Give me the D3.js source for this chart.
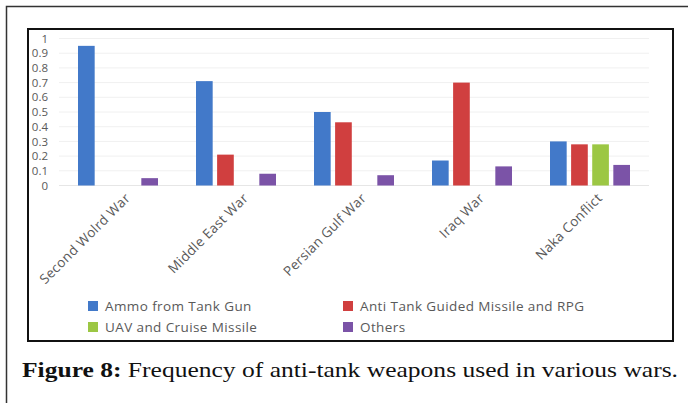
<!DOCTYPE html>
<html>
<head>
<meta charset="utf-8">
<script src="https://cdn.jsdelivr.net/npm/d3@7"></script>
<style>
  body { margin: 0; background: #fff; }
  svg { display: block; }
</style>
</head>
<body>
<svg id="chart"></svg>
<script>
// data
const categories = ["Second Wolrd War", "Middle East War", "Persian Gulf War", "Iraq War", "Naka Conflict"];
const seriesNames = ["Ammo from Tank Gun", "Anti Tank Guided Missile and RPG", "UAV and Cruise Missile", "Others"];
const ammo = [0.95, 0.71, 0.50, 0.17, 0.30];
const atgm = [0, 0.21, 0.43, 0.70, 0.28];
const uav = [0, 0, 0, 0, 0.28];
const others = [0.05, 0.08, 0.07, 0.13, 0.14];
const yTicks = [0, 0.1, 0.2, 0.3, 0.4, 0.5, 0.6, 0.7, 0.8, 0.9, 1];
const colors = ["#4279c9", "#d03f3f", "#9cc744", "#7b53a7"];

const allSeries = [ammo, atgm, uav, others];

const width = 688, height = 403;
const svg = d3.select("#chart").attr("width", width).attr("height", height);

// outer frame of the figure
svg.append("rect")
  .attr("x", 6.5).attr("y", 6.5)
  .attr("width", 700).attr("height", 420)
  .attr("fill", "none").attr("stroke", "#333").attr("stroke-width", 1.5);

// inner chart box
svg.append("rect")
  .attr("x", 28).attr("y", 29)
  .attr("width", 645).attr("height", 312)
  .attr("fill", "#fff").attr("stroke", "#111").attr("stroke-width", 2);

const x0 = d3.scaleBand().domain(categories).range([59, 649]);
const x1 = d3.scaleBand().domain(seriesNames).range([0, 80]).paddingInner(0.21);
const y = d3.scaleLinear().domain([0, 1]).range([185.5, 38.5]);

// gridlines
svg.append("g")
  .selectAll("line")
  .data(yTicks.slice(1))
  .enter()
  .append("line")
  .attr("x1", 59).attr("x2", 649)
  .attr("y1", d => y(d)).attr("y2", d => y(d))
  .attr("stroke", "#f0f0f0").attr("stroke-width", 1);

svg.append("line")
  .attr("x1", 59).attr("x2", 649)
  .attr("y1", y(0)).attr("y2", y(0))
  .attr("stroke", "#e6e6e6");

// y axis labels
const yAxis = d3.axisLeft(y).tickValues(yTicks).tickSize(0).tickPadding(0)
  .tickFormat(d => d3.format("")(d));
const yg = svg.append("g").attr("transform", "translate(48,0)").call(yAxis);
yg.select(".domain").remove();
yg.selectAll("text")
  .attr("fill", "#595959")
  .style("font-family", "'Open Sans', sans-serif")
  .style("font-size", "11.5px");

// clip the labels to the inner box like the source picture
svg.append("rect").attr("x", 20).attr("y", 30).attr("width", 9).attr("height", 170).attr("fill", "#fff");
svg.append("line").attr("x1", 28).attr("x2", 28).attr("y1", 28).attr("y2", 342)
  .attr("stroke", "#111").attr("stroke-width", 2);

// bars
const groups = svg.append("g")
  .selectAll("g")
  .data(categories)
  .enter()
  .append("g")
  .attr("transform", d => `translate(${x0(d) + (x0.bandwidth() - 80) / 2},0)`);

groups.selectAll("rect")
  .data((d, i) => seriesNames.map((s, j) => ({ s, j, v: allSeries[j][i] })))
  .enter()
  .filter(d => d.v > 0)
  .append("rect")
  .attr("x", d => x1(d.s))
  .attr("y", d => y(d.v))
  .attr("width", x1.bandwidth())
  .attr("height", d => y(0) - y(d.v))
  .attr("fill", d => colors[d.j]);

// category labels
svg.append("g")
  .selectAll("text")
  .data(categories)
  .enter()
  .append("text")
  .attr("transform", d => `translate(${x0(d) + x0.bandwidth() / 2 + 13},${199}) rotate(-45)`)
  .attr("text-anchor", "end")
  .attr("fill", "#595959")
  .style("font-family", "'Open Sans', sans-serif")
  .style("font-size", "13.5px")
  .style("letter-spacing", "0.3px")
  .text(d => d);

// legend
const legendPos = [[88, 306], [343, 306], [88, 327], [343, 327]];
const legend = svg.append("g")
  .selectAll("g")
  .data(seriesNames)
  .enter()
  .append("g")
  .attr("transform", (d, i) => `translate(${legendPos[i][0]},${legendPos[i][1]})`);

legend.append("rect")
  .attr("x", 0).attr("y", -5)
  .attr("width", 10).attr("height", 10)
  .attr("fill", (d, i) => colors[i]);

legend.append("text")
  .attr("x", 17).attr("y", 5)
  .attr("fill", "#595959")
  .style("font-family", "'Open Sans', sans-serif")
  .style("font-size", "13.5px")
  .style("letter-spacing", "0.4px")
  .text(d => d);

// caption
const cap = svg.append("text")
  .attr("x", 22).attr("y", 377)
  .attr("fill", "#111")
  .attr("textLength", 656)
  .attr("lengthAdjust", "spacingAndGlyphs")
  .style("font-family", "'Liberation Serif', serif")
  .style("font-size", "22px");
cap.append("tspan").attr("font-weight", "bold").text("Figure 8:");
cap.append("tspan").text(" Frequency of anti-tank weapons used in various wars.");
</script>
</body>
</html>
